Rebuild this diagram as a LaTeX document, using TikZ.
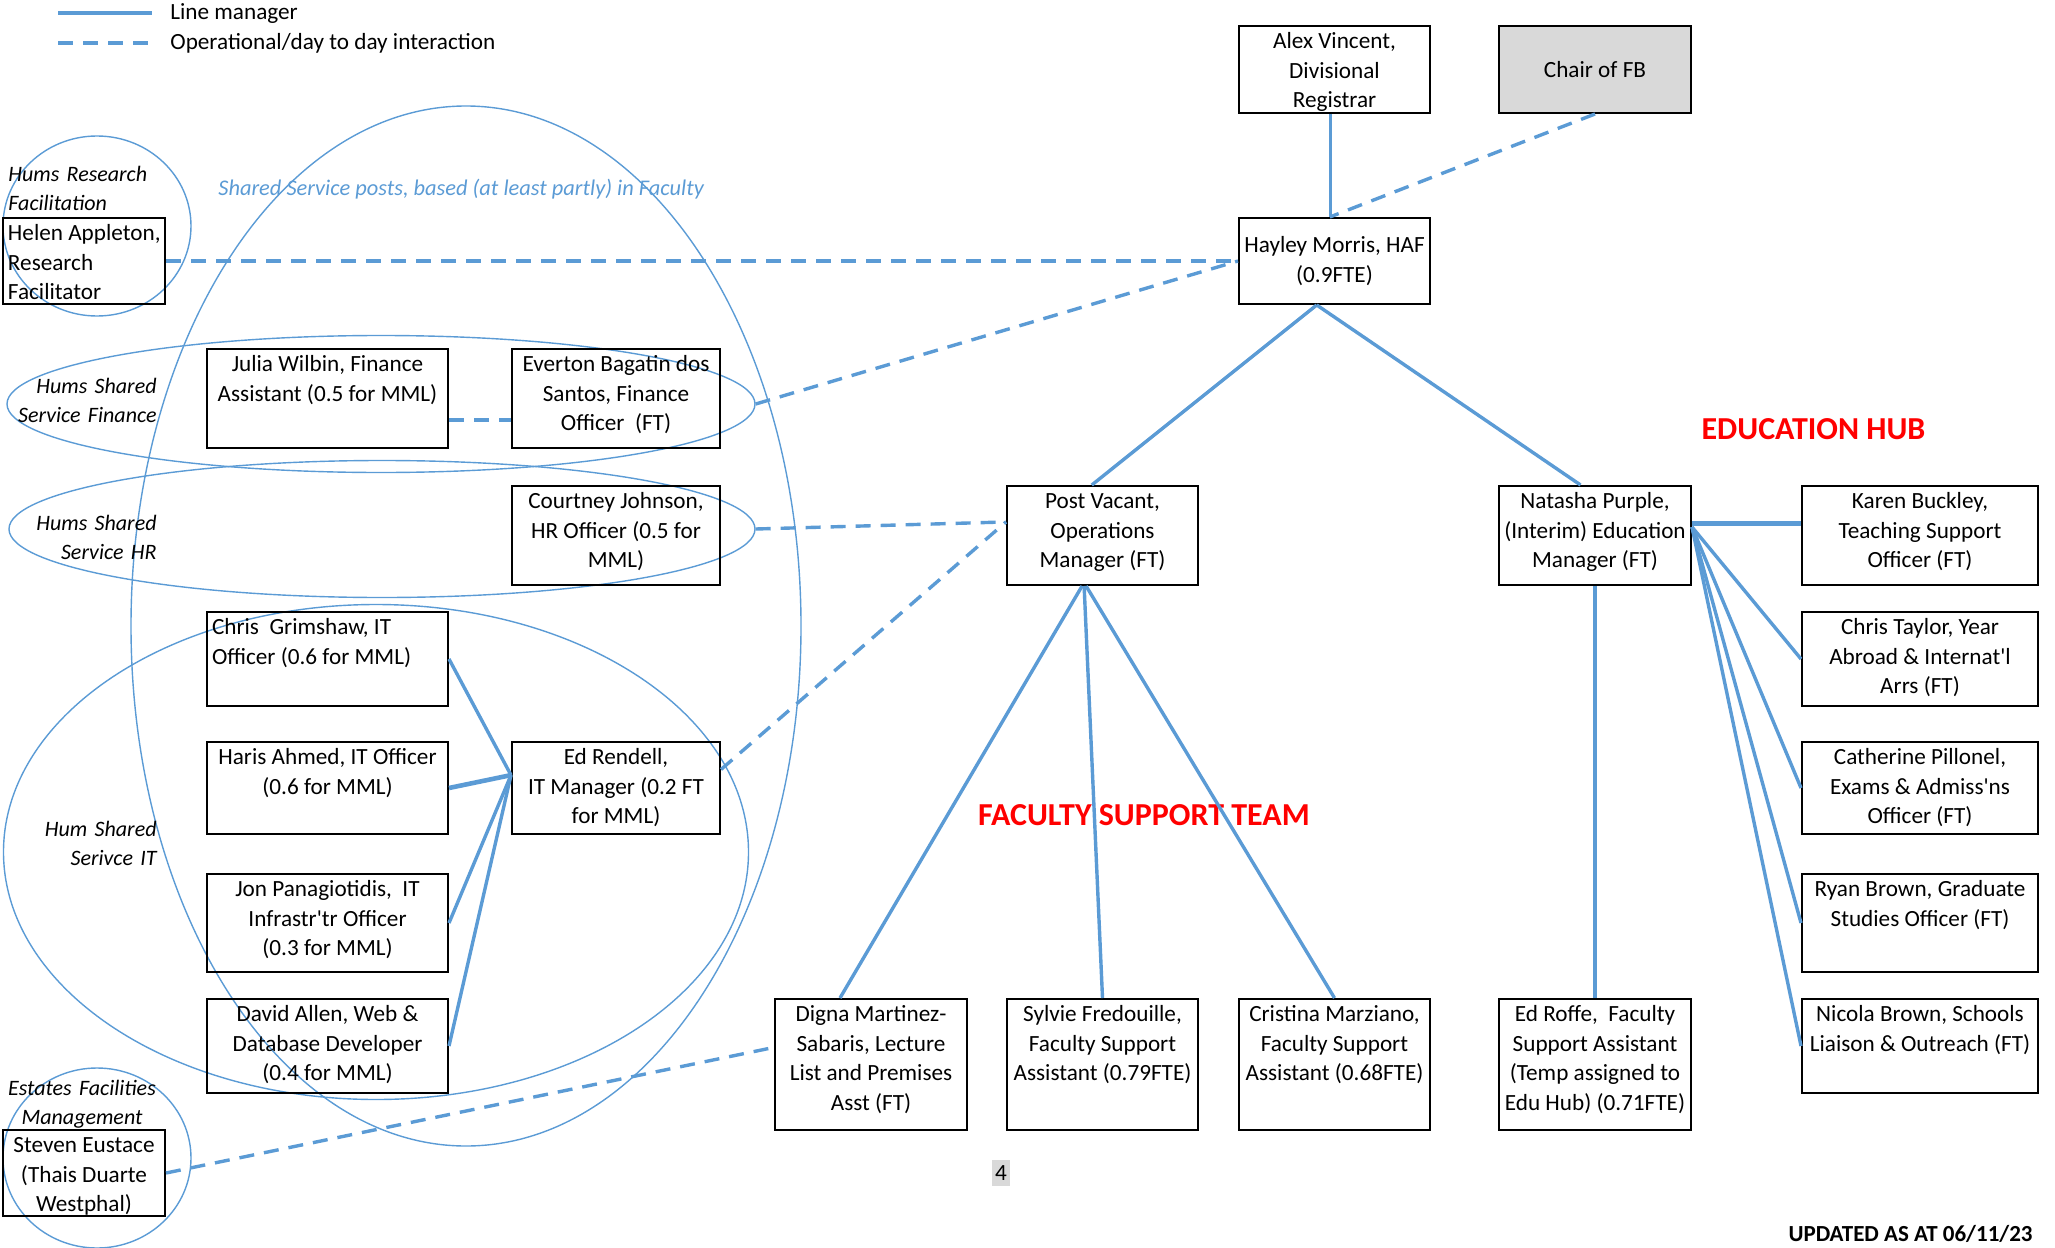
\documentclass[tikz,border=0pt]{standalone}
\usepackage{fontspec}
\setmainfont{Carlito}
\usetikzlibrary{shapes.geometric}
\definecolor{linkblue}{RGB}{91,155,213}
\definecolor{chairgrey}{RGB}{217,217,217}
\newcommand{\post}[3]{\parbox[c][#2][t]{#1}{\centering\rule{0pt}{11.4pt}#3}}
\newcommand{\postl}[3]{\parbox[c][#2][t]{#1}{\raggedright\leftskip=2.5pt\rule{0pt}{11.4pt}#3}}
\newcommand{\postm}[3]{\parbox[c][#2][c]{#1}{\centering #3}}
\begin{document}
\begin{tikzpicture}[x=0.5pt,y=-0.5pt]
\tikzstyle{every node}+=[inner sep=0pt, font=\fontsize{11.6}{14.75}\selectfont]
\tikzstyle{post}=[draw=black, line width=1pt]
\tikzstyle{grp}=[ellipse, draw=linkblue, line width=0.7pt]
\tikzstyle{mgr}=[linkblue, line width=1.7pt]
\tikzstyle{ops}=[linkblue, line width=1.7pt, dash pattern=on 7.5pt off 5pt]
\tikzstyle{tag}=[font=\fontsize{11}{14.75}\selectfont\itshape, text width=80pt]
\tikzstyle{team}=[red, font=\fontsize{16}{19}\selectfont\bfseries]
\useasboundingbox (0,0) rectangle (2055,1247);
\coordinate (mgrA) at (58,13);
\coordinate (mgrB) at (152,13);
\coordinate (opsA) at (58,43);
\coordinate (opsB) at (152,43);
\draw[mgr] (mgrA) -- (mgrB);
\draw[ops] (opsA) -- (opsB);
\node[anchor=base west] (legmgr) at (170,20) {Line manager};
\node[anchor=base west] (legops) at (170,50) {Operational/day to day interaction};
\node[grp, minimum width=94pt, minimum height=90pt] (research) at (97,226) {};
\node[grp, minimum width=335pt, minimum height=520pt] (shared) at (466,626) {};
\node[grp, minimum width=374pt, minimum height=68.5pt] (finance) at (381,404) {};
\node[grp, minimum width=373pt, minimum height=68.5pt] (hr) at (382,529) {};
\node[grp, minimum width=372.5pt, minimum height=247.5pt] (itgroup) at (376,852) {};
\node[grp, minimum width=94pt, minimum height=90pt] (estates) at (97,1158) {};
\node[tag, anchor=base west] (researchtag) at (8,181) {Hums Research\\Facilitation};
\node[tag, anchor=base east, align=right] (financetag) at (157,393) {Hums Shared\\Service Finance};
\node[tag, anchor=base east, align=right] (hrtag) at (157,530) {Hums Shared\\Service HR};
\node[tag, anchor=base east, align=right] (ittag) at (157,836) {Hum Shared\\Serivce IT};
\node[tag, anchor=base, align=center, text width=90pt] (estatestag) at (82,1095) {Estates Facilities\\Management};
\node[anchor=base west, linkblue, font=\fontsize{11.2}{14.75}\selectfont\itshape] (sharedtag) at (218,195) {Shared Service posts, based (at least partly) in Faculty};
\node[post] (alex) at (1334.5,69.5) {\post{95.5pt}{43.5pt}{Alex Vincent,\\Divisional\\Registrar}};
\node[post, fill=chairgrey] (chair) at (1595,69.5) {\postm{96pt}{43.5pt}{Chair of FB}};
\node[post] (hayley) at (1334.5,261) {\postm{95.5pt}{43pt}{Hayley Morris, HAF\\(0.9FTE)}};
\node[post] (helen) at (84,261) {\postl{81pt}{43pt}{Helen Appleton,\\Research\\Facilitator}};
\node[post] (julia) at (327.5,398.5) {\post{120.5pt}{49.5pt}{Julia Wilbin, Finance\\Assistant (0.5 for MML)}};
\node[post] (everton) at (616,398.5) {\post{104pt}{49.5pt}{Everton Bagatin dos\\Santos, Finance\\Officer~ (FT)}};
\node[post] (courtney) at (616,535.5) {\post{104pt}{49.5pt}{Courtney Johnson,\\HR Officer (0.5 for\\MML)}};
\node[post] (chrisg) at (327.5,659) {\postl{120.5pt}{47pt}{Chris~ Grimshaw, IT\\Officer (0.6 for MML)}};
\node[post] (haris) at (327.5,788) {\post{120.5pt}{46pt}{Haris Ahmed, IT Officer\\(0.6 for MML)}};
\node[post] (edr) at (616,788) {\post{104pt}{46pt}{Ed Rendell,\\IT Manager (0.2 FT\\for MML)}};
\node[post] (jon) at (327.5,923) {\post{120.5pt}{49pt}{Jon Panagiotidis,~ IT\\Infrastr\textquotesingle tr Officer\\(0.3 for MML)}};
\node[post] (david) at (327.5,1046) {\post{120.5pt}{47pt}{David Allen, Web \&\\Database Developer\\(0.4 for MML)}};
\node[post] (steven) at (84,1173) {\post{81pt}{43pt}{Steven Eustace\\(Thais Duarte\\Westphal)}};
\node[post] (postvac) at (1102.5,535.5) {\post{95.5pt}{49.5pt}{Post Vacant,\\Operations\\Manager (FT)}};
\node[post] (natasha) at (1595,535.5) {\post{96pt}{49.5pt}{Natasha Purple,\\(Interim) Education\\Manager (FT)}};
\node[post] (karen) at (1920,535.5) {\post{118pt}{49.5pt}{Karen Buckley,\\Teaching Support\\Officer (FT)}};
\node[post] (ctaylor) at (1920,659) {\post{118pt}{47pt}{Chris Taylor, Year\\Abroad \& Internat\textquotesingle l\\Arrs (FT)}};
\node[post] (catherine) at (1920,788) {\post{118pt}{46pt}{Catherine Pillonel,\\Exams \& Admiss\textquotesingle ns\\Officer (FT)}};
\node[post] (ryan) at (1920,923) {\post{118pt}{49pt}{Ryan Brown, Graduate\\Studies Officer (FT)}};
\node[post] (nicola) at (1920,1046) {\post{118pt}{47pt}{Nicola Brown, Schools\\Liaison \& Outreach (FT)}};
\node[post] (digna) at (871,1064.5) {\post{96pt}{65.5pt}{Digna Martinez-\\Sabaris, Lecture\\List and Premises\\Asst (FT)}};
\node[post] (sylvie) at (1102.5,1064.5) {\post{95.5pt}{65.5pt}{Sylvie Fredouille,\\Faculty Support\\Assistant (0.79FTE)}};
\node[post] (cristina) at (1334.5,1064.5) {\post{95.5pt}{65.5pt}{Cristina Marziano,\\Faculty Support\\Assistant (0.68FTE)}};
\node[post] (edroffe) at (1595,1064.5) {\post{96pt}{65.5pt}{Ed Roffe,~ Faculty\\Support Assistant\\(Temp assigned to\\Edu Hub) (0.71FTE)}};
\node[team] (eduhub) at (1813.5,429) {EDUCATION HUB};
\node[team] (fstteam) at (1144,815) {FACULTY SUPPORT TEAM};
\node[fill=chairgrey, inner xsep=1.5pt, inner ysep=3pt] (pagenum) at (1001,1173) {4};
\node[anchor=east, font=\fontsize{11.5}{13}\selectfont\bfseries] (updated) at (2033,1234) {UPDATED AS AT 06/11/23};
\draw[mgr] (alex.-95) -- (alex.-95 |- hayley.north);
\draw[ops] (chair.south) -- (hayley.96);
\draw[ops] (helen) -- (hayley);
\draw[ops] (finance.east) -- (hayley.west);
\draw[ops] (julia.-10) -- (julia.-10 -| everton.west);
\draw[ops] (hr.east) -- (postvac.172);
\draw[ops] (edr.10) -- (postvac.172);
\draw[ops] (steven.east) -- (digna.170);
\draw[mgr] (hayley.-112) -- (postvac.102);
\draw[mgr] (hayley.-112) -- (natasha.106);
\draw[mgr] (postvac.-112) -- (digna.115);
\draw[mgr] (postvac.-110) -- (sylvie.north);
\draw[mgr] (postvac.-108) -- (cristina.north);
\draw[mgr] (natasha) -- (edroffe);
\draw[mgr, line width=2.3pt] (natasha.7) -- (natasha.7 -| karen.west);
\draw[mgr] (natasha.5) -- (ctaylor.west);
\draw[mgr] (natasha.5) -- (catherine.west);
\draw[mgr] (natasha.5) -- (ryan.west);
\draw[mgr] (natasha.5) -- (nicola.west);
\draw[mgr] (chrisg.east) -- (edr.173);
\draw[mgr, line width=2.3pt] (haris.east) -- (edr.173);
\draw[mgr] (jon.east) -- (edr.173);
\draw[mgr] (david.east) -- (edr.173);
\end{tikzpicture}
\end{document}
